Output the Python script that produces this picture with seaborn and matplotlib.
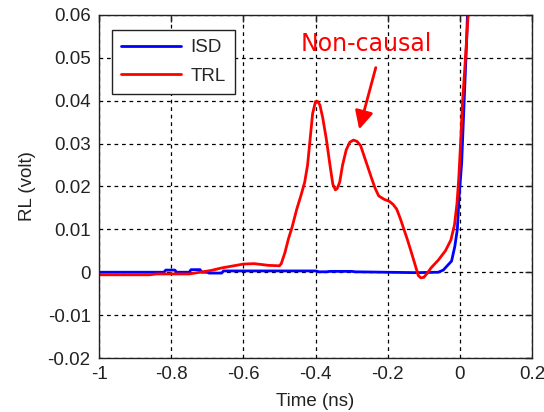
import pandas as pd
import matplotlib.pyplot as plt
import seaborn as sns

# ISD response (volt) vs time (ns)
isd_t = [-1.0, -0.82, -0.815, -0.79, -0.785, -0.75, -0.745, -0.72, -0.715, -0.70,
         -0.695, -0.66, -0.655, -0.40, -0.39, -0.37, -0.36, -0.30, -0.29, -0.12,
         -0.06, -0.046, -0.023, -0.014, -0.007, -0.002, 0.005, 0.011, 0.0185, 0.021, 0.03]
isd_v = [0.0, 0.0, 0.0005, 0.0005, 0.0, 0.0, 0.0006, 0.0006, 0.0, 0.0,
         -0.0002, -0.0002, 0.0003, 0.0003, 0.0001, 0.0001, 0.0002, 0.0002, 0.0001, -0.0001,
         0.0, 0.0005, 0.0026, 0.006, 0.010, 0.0177, 0.0255, 0.038, 0.0534, 0.060, 0.08]

# TRL response
trl_t = [-1.0, -0.86, -0.84, -0.75, -0.72, -0.69, -0.66, -0.62, -0.60, -0.57,
         -0.53, -0.50, -0.495, -0.485, -0.475, -0.465, -0.452, -0.44, -0.43, -0.422,
         -0.415, -0.408, -0.40, -0.394, -0.388, -0.38, -0.37, -0.36, -0.352, -0.345,
         -0.34, -0.333, -0.325, -0.315, -0.305, -0.295, -0.285, -0.275, -0.265, -0.255,
         -0.245, -0.235, -0.225, -0.21, -0.195, -0.185, -0.175, -0.165, -0.155, -0.145,
         -0.135, -0.125, -0.115, -0.108, -0.10, -0.09, -0.08, -0.06, -0.04, -0.025,
         -0.015, -0.008, -0.003, 0.002, 0.007, 0.014, 0.023, 0.03]
trl_v = [-0.0006, -0.0006, -0.0004, -0.0004, 0.0, 0.0004, 0.0010, 0.0016, 0.0019, 0.0020,
         0.0016, 0.0015, 0.002, 0.0045, 0.0078, 0.0105, 0.0147, 0.018, 0.021, 0.025,
         0.031, 0.037, 0.0398, 0.0398, 0.039, 0.036, 0.031, 0.025, 0.0205, 0.0192,
         0.0195, 0.021, 0.025, 0.0285, 0.0303, 0.0308, 0.0305, 0.0295, 0.027, 0.0245,
         0.022, 0.0196, 0.0178, 0.017, 0.0165, 0.0158, 0.0147, 0.0125, 0.0100, 0.0075,
         0.0048, 0.002, -0.0008, -0.0013, -0.0012, -0.0002, 0.001, 0.0028, 0.0050, 0.0075,
         0.011, 0.016, 0.022, 0.030, 0.039, 0.048, 0.060, 0.075]

df = pd.concat([
    pd.DataFrame({'t': isd_t, 'v': isd_v, 'method': 'ISD'}),
    pd.DataFrame({'t': trl_t, 'v': trl_v, 'method': 'TRL'}),
])

sns.set_style('white')
plt.rcParams['font.family'] = ['Liberation Sans', 'DejaVu Sans']

fig = plt.figure(figsize=(5.44, 4.12), dpi=100)
ax = fig.add_axes([0.182, 0.131, 0.796, 0.833])

sns.lineplot(data=df, x='t', y='v', hue='method', palette={'ISD': '#0000ff', 'TRL': '#ff0000'},
             sort=False, estimator=None, linewidth=2, ax=ax)

ax.set_xlim(-1, 0.2)
ax.set_ylim(-0.02, 0.06)
ax.set_xticks([-1, -0.8, -0.6, -0.4, -0.2, 0, 0.2])
ax.set_xticklabels(['-1', '-0.8', '-0.6', '-0.4', '-0.2', '0', '0.2'])
ax.set_yticks([-0.02, -0.01, 0, 0.01, 0.02, 0.03, 0.04, 0.05, 0.06])
ax.set_yticklabels(['-0.02', '-0.01', '0', '0.01', '0.02', '0.03', '0.04', '0.05', '0.06'])
ax.grid(True, color='black', linestyle=(0, (3, 3)), linewidth=0.9)
ax.tick_params(direction='in', top=True, right=True, length=5, width=1,
               labelsize=13.5, pad=6, colors='#222222')
for s in ax.spines.values():
    s.set_color('#222222')
    s.set_linewidth(1)

ax.set_xlabel('Time (ns)', fontsize=13.5, labelpad=7, color='#222222')
ax.set_ylabel('RL (volt)', fontsize=13.5, labelpad=8, color='#222222')

leg = ax.legend(loc='upper left', bbox_to_anchor=(0.029, 0.956), borderaxespad=0,
                fontsize=13.5, handlelength=3.2, handletextpad=0.5, labelspacing=0.6,
                borderpad=0.5, fancybox=False, framealpha=1, edgecolor='#222222', title=None)
leg.get_frame().set_linewidth(1)

ax.text(-0.441, 0.0515, 'Non-causal', color='red', fontsize=17, family='DejaVu Sans',
        ha='left', va='baseline')
ax.annotate('', xy=(-0.279, 0.0333), xytext=(-0.233, 0.0477),
            arrowprops=dict(arrowstyle='-|>,head_length=0.5,head_width=0.25', color='red',
                            lw=2, mutation_scale=22, shrinkA=0, shrinkB=0))

fig.savefig('out.png', dpi=100)
